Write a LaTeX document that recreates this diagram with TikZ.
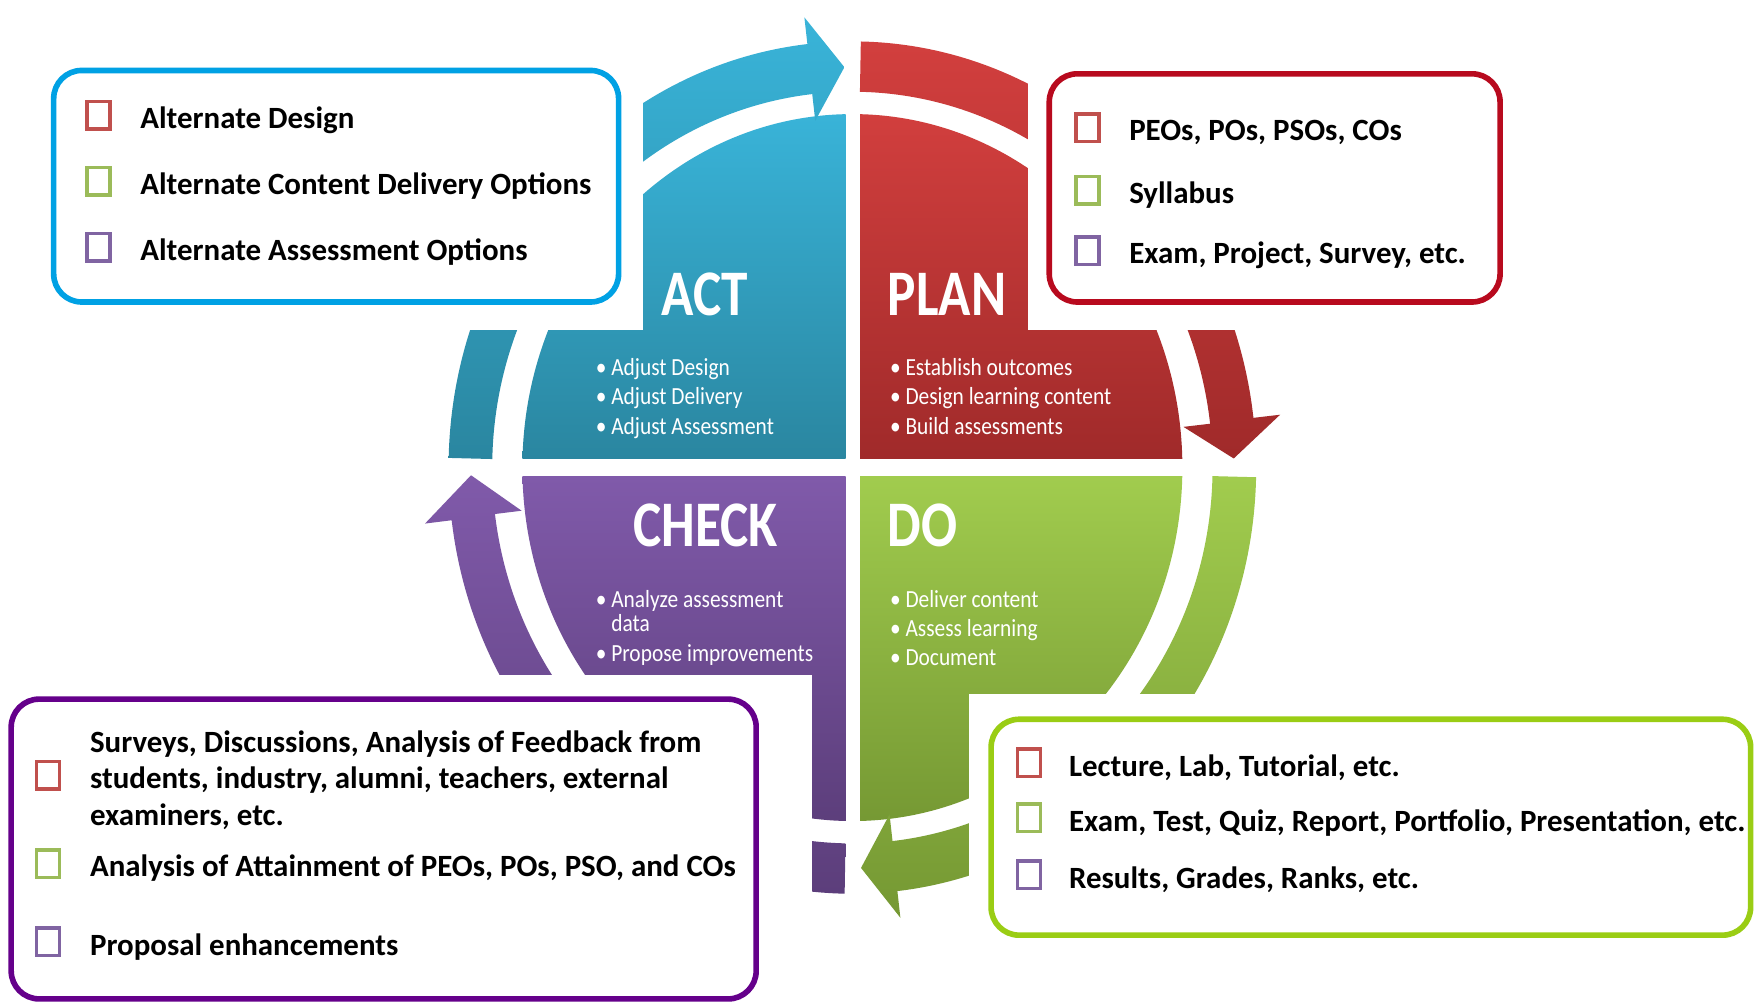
\documentclass[tikz,border=0pt]{standalone}
\usepackage{fontspec}
\setmainfont{Carlito}
\newfontfamily\phasefont[FakeStretch=0.82]{Carlito}
\newfontfamily\notefont[FakeStretch=0.87]{Carlito}
\usetikzlibrary{positioning}
\definecolor{ActLight}{HTML}{39B4D9}
\definecolor{ActDark}{HTML}{2A86A0}
\definecolor{PlanLight}{HTML}{D23F3E}
\definecolor{PlanDark}{HTML}{A02A2A}
\definecolor{CheckLight}{HTML}{805AAA}
\definecolor{CheckDark}{HTML}{5C3E7B}
\definecolor{DoLight}{HTML}{A1CC4E}
\definecolor{DoDark}{HTML}{759833}
\definecolor{BoxBlue}{HTML}{00A1E4}
\definecolor{BoxRed}{HTML}{B80A1E}
\definecolor{BoxPurple}{HTML}{65008B}
\definecolor{BoxGreen}{HTML}{9ACD14}
\definecolor{TickRed}{HTML}{C0504D}
\definecolor{TickGreen}{HTML}{9BBB59}
\definecolor{TickPurple}{HTML}{8064A2}
\tikzset{
  phase/.style={text=white, inner sep=0pt,
    font=\phasefont\bfseries\fontsize{18.5}{20}\selectfont},
  notes/.style={text=white, inner sep=0pt, anchor=north west, align=left,
    font=\notefont\fontsize{7}{8.3}\selectfont},
  itembox/.style={draw=#1, line width=1.6pt, rounded corners=2.8mm, fill=white},
  tick/.style={draw=#1, line width=1pt, minimum width=2.3mm,
    minimum height=2.75mm, inner sep=0pt},
  item/.style={inner sep=0pt, align=left, yshift=-0.5mm,
    font=\bfseries\fontsize{8.8}{10.5}\selectfont},
  notch/.style={fill=white}
}
% ring arrow: tail angle, back of head, tip
\newcommand{\cyclearrow}[3]{(#1:361 and 381)
  arc[start angle=#1, end angle=#2, x radius=361, y radius=381]
  -- (#2:385 and 405) -- (#3:341 and 358) -- (#2:298 and 312)
  -- (#2:322 and 336)
  arc[start angle=#2, end angle=#1, x radius=322, y radius=336] -- cycle}
\begin{document}
\begin{tikzpicture}[x=0.11186mm, y=0.11186mm]
  \fill[white] (-762,-478) rectangle (806,418);
  \useasboundingbox (-762,-478) rectangle (806,418);
  \coordinate (Centre) at (0,0);

  \begin{scope}
    \clip (Centre) ellipse [x radius=295, y radius=316];
    \shade[top color=ActLight, bottom color=ActDark] (-300,320) rectangle (-6,8);
    \shade[top color=PlanLight, bottom color=PlanDark] (7,320) rectangle (300,8);
    \shade[top color=CheckLight, bottom color=CheckDark] (-300,-8) rectangle (-6,-320);
    \shade[top color=DoLight, bottom color=DoDark] (7,-8) rectangle (300,-320);
  \end{scope}

  \shade[top color=ActLight, bottom color=ActDark] \cyclearrow{178.7}{96.4}{91.2};
  \shade[top color=PlanLight, bottom color=PlanDark] \cyclearrow{88.8}{6.7}{1.3};
  \shade[top color=DoLight, bottom color=DoDark] \cyclearrow{-1.3}{-83.6}{-88.7};
  \shade[top color=CheckLight, bottom color=CheckDark] \cyclearrow{268.9}{187.1}{181.1};

  % corners left free for the boxes
  \fill[notch] (-762,123) rectangle (-187,418);
  \fill[notch] (157,123) rectangle (806,418);
  \fill[notch] (-762,-185) rectangle (-36,-478);
  \fill[notch] (104,-202) rectangle (806,-478);

  \node[phase] (act) at (-132,155) {ACT};
  \node[phase, anchor=west] (plan) at (31,155) {PLAN};
  \node[phase] (check) at (-131,-52) {CHECK};
  \node[phase, anchor=west] (do) at (31,-52) {DO};

  \node[notes] (actNotes) at (-230,98)
    {\textbullet\ Adjust Design\\\textbullet\ Adjust Delivery\\\textbullet\ Adjust Assessment};
  \node[notes] (planNotes) at (33,98)
    {\textbullet\ Establish outcomes\\\textbullet\ Design learning content\\\textbullet\ Build assessments};
  \node[notes] (checkNotes) at (-230,-109)
    {\textbullet\ Analyze assessment\\[-1.3pt]\phantom{\textbullet\ }data\\\textbullet\ Propose improvements};
  \node[notes] (doNotes) at (33,-109)
    {\textbullet\ Deliver content\\\textbullet\ Assess learning\\\textbullet\ Document};

  \draw[itembox=BoxBlue] (-714,355) rectangle (-209,148);
  \draw[itembox=BoxRed] (176,352) rectangle (579,148);
  \draw[itembox=BoxPurple] (-752,-207) rectangle (-86,-475);
  \draw[itembox=BoxGreen] (124,-225) rectangle (803,-418);

  \foreach \n/\c/\y/\t in {A/TickRed/315/{Alternate Design},
      B/TickGreen/256/{Alternate Content Delivery Options},
      C/TickPurple/197/{Alternate Assessment Options}}{
    \node[tick=\c] (actTick\n) at (-674,\y) {};
    \node[item, right=2.8mm of actTick\n] (actItem\n) {\t};
  }
  \foreach \n/\c/\y/\t in {A/TickRed/304/{PEOs, POs, PSOs, COs},
      B/TickGreen/248/{Syllabus},
      C/TickPurple/194/{Exam, Project, Survey, etc.}}{
    \node[tick=\c] (planTick\n) at (210,\y) {};
    \node[item, right=2.8mm of planTick\n] (planItem\n) {\t};
  }
  \foreach \n/\c/\y/\t in {A/TickRed/-275/{Surveys, Discussions, Analysis of Feedback from\\students, industry, alumni, teachers, external\\examiners, etc.},
      B/TickGreen/-354/{Analysis of Attainment of PEOs, POs, PSO, and COs},
      C/TickPurple/-424/{Proposal enhancements}}{
    \node[tick=\c] (checkTick\n) at (-719,\y) {};
    \node[item, right=2.8mm of checkTick\n] (checkItem\n) {\t};
  }
  \foreach \n/\c/\y/\t in {A/TickRed/-264/{Lecture, Lab, Tutorial, etc.},
      B/TickGreen/-313/{Exam, Test, Quiz, Report, Portfolio, Presentation, etc.},
      C/TickPurple/-364/{Results, Grades, Ranks, etc.}}{
    \node[tick=\c] (doTick\n) at (158,\y) {};
    \node[item, right=2.6mm of doTick\n] (doItem\n) {\t};
  }
\end{tikzpicture}
\end{document}
